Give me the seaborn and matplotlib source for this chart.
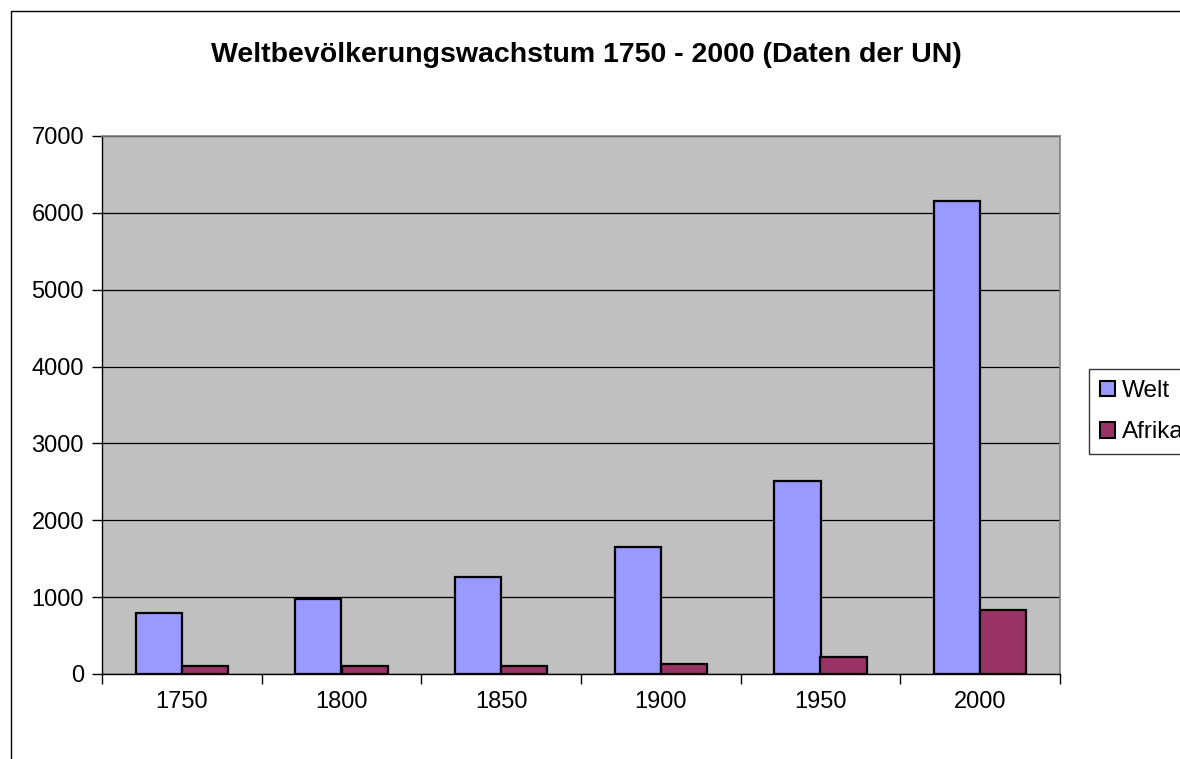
import matplotlib
matplotlib.use("Agg")
import matplotlib.pyplot as plt
import matplotlib.patches as mpatches
import seaborn as sns
import pandas as pd

# Daten (Mio. Menschen)
years = ["1750", "1800", "1850", "1900", "1950", "2000"]
welt = [790, 970, 1265, 1650, 2515, 6150]
afrika = [100, 100, 105, 125, 225, 830]
series_names = ["Welt", "Afrika"]
colors = ["#9999FF", "#993366"]

df = pd.DataFrame({
    "Jahr": years * 2,
    "Wert": welt + afrika,
    "Reihe": [series_names[0]] * len(years) + [series_names[1]] * len(years),
})

sns.set_style("white")
plt.rcParams['font.family'] = ['Liberation Sans', 'DejaVu Sans']
plt.rcParams['text.color'] = 'black'
plt.rcParams['xtick.color'] = 'black'
plt.rcParams['ytick.color'] = 'black'

fig = plt.figure(figsize=(11.8, 7.59), dpi=100)
ax = fig.add_axes([102 / 1180, 1 - 674 / 759, (1060 - 102) / 1180, (674 - 136) / 759])
ax.set_facecolor("#C0C0C0")

sns.barplot(data=df, x="Jahr", y="Wert", hue="Reihe", hue_order=series_names,
            palette=colors, width=0.58, edgecolor="black", linewidth=1.6,
            saturation=1, ax=ax, legend=False)

ax.set_ylim(0, 7000)
ax.set_xlim(-0.5, len(years) - 0.5)
ax.set_yticks(range(0, 7001, 1000))
ax.yaxis.grid(True, color="black", linewidth=0.9)
ax.set_axisbelow(True)
ax.set_xlabel("")
ax.set_ylabel("")

# Ticks zwischen den Kategorien wie in Excel
ax.set_xticks([i - 0.5 for i in range(len(years) + 1)], minor=False)
ax.set_xticklabels([])
ax.set_xticks(range(len(years)), minor=True)
ax.set_xticklabels(years, minor=True, fontsize=17)
ax.tick_params(axis="x", which="major", direction="out", length=7, width=1, color="black")
ax.tick_params(axis="x", which="minor", length=0, pad=12)
ax.tick_params(axis="y", direction="out", length=7, width=1, color="black", labelsize=17, pad=6)
ax.tick_params(left=True, bottom=True)

for side in ["left", "bottom"]:
    ax.spines[side].set_color("black")
    ax.spines[side].set_linewidth(1)
for side in ["top", "right"]:
    ax.spines[side].set_color("#808080")
    ax.spines[side].set_linewidth(1.2)

fig.text(0.497, 1 - 55 / 759, "Weltbevölkerungswachstum 1750 - 2000 (Daten der UN)",
         ha="center", va="center", fontsize=20.5, fontweight="bold", color="black")

# Legende (rechts vom Rand abgeschnitten wie im Original)
handles = [mpatches.Patch(facecolor=c, edgecolor="black", linewidth=1.5, label=n)
           for c, n in zip(colors, series_names)]
fig.legend(handles=handles, loc="upper left", bbox_to_anchor=(1089 / 1180, 1 - 369 / 759),
           frameon=True, fancybox=False, edgecolor="black", fontsize=17.5,
           handlelength=0.6, handleheight=0.6, handletextpad=0.3, labelspacing=0.8,
           borderpad=0.45, borderaxespad=0)

# Rahmen um das Diagramm
fig.add_artist(mpatches.Rectangle((11 / 1180, -0.1), 2, 1 - 11 / 759 + 0.1,
                                  transform=fig.transFigure, fill=False,
                                  edgecolor="black", linewidth=1))

fig.savefig("out.png", dpi=100, facecolor="white")
